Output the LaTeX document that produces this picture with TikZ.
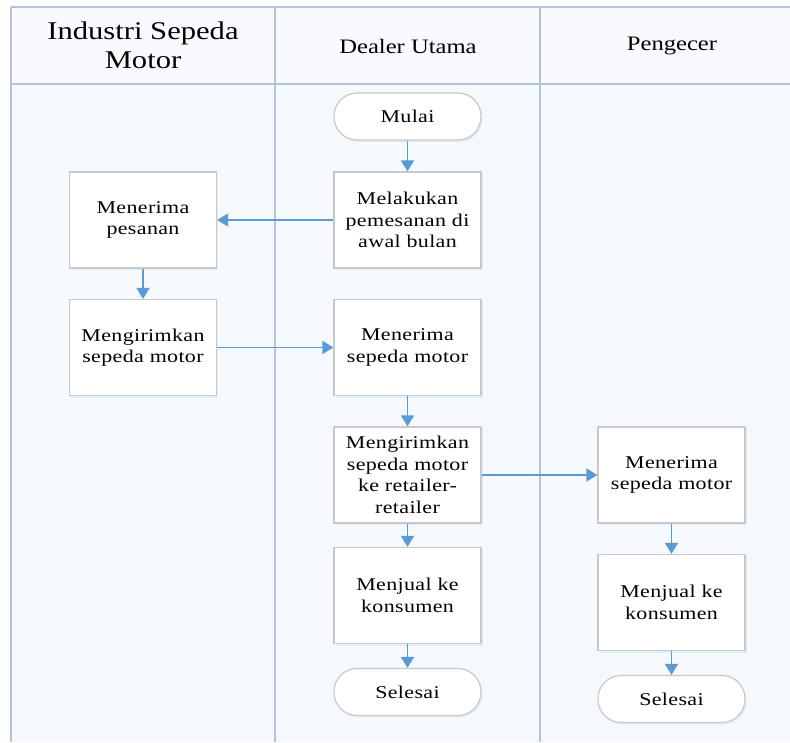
\documentclass[tikz,border=0pt]{standalone}
\usepackage{fontspec}
\setmainfont{Liberation Serif}
\newfontfamily\serifx{Liberation Serif}[FakeStretch=1.22,LetterSpace=2]
\newfontfamily\serifh{Liberation Serif}[FakeStretch=1.2]
\usetikzlibrary{arrows.meta,shadows}
\definecolor{lanecol}{HTML}{B3C3DB}
\definecolor{arrowcol}{HTML}{5B9BD5}
\definecolor{boxline}{HTML}{C8C8C8}
\definecolor{bgcol}{HTML}{F5F8FC}
\definecolor{headcol}{HTML}{F8FAFD}
\begin{document}
\begin{tikzpicture}[x=1pt,y=-1pt,
  procbox/.style={draw=boxline, line width=1.2pt, fill=white,
    minimum width=147pt, minimum height=96pt, align=center, inner sep=2pt,
    font=\serifx\fontsize{18}{21.5}\selectfont,
    drop shadow={shadow xshift=1.5pt, shadow yshift=-2pt, fill=arrowcol!35, opacity=0.35}},
  termbox/.style={procbox, minimum height=47pt, rounded corners=23pt},
  flow/.style={draw=arrowcol, line width=1.5pt, -{Triangle[length=11pt,width=13pt]}},
  lane/.style={draw=lanecol, line width=1.6pt},
  headtext/.style={align=center}
]
\useasboundingbox (0,0) rectangle (790,742);
\fill[white] (0,0) rectangle (790,742);
\fill[bgcol] (11,84) rectangle (790,742);
\fill[headcol] (11,7) rectangle (790,84);
% lanes
\draw[lane] (11,7) -- (790,7);
\draw[lane] (11,84) -- (790,84);
\draw[lane] (11,7) -- (11,742);
\draw[lane] (275,7) -- (275,742);
\draw[lane] (540,7) -- (540,742);
% headers
\node[headtext, font=\serifh\fontsize{25.5}{29}\selectfont] (h1) at (143,45) {Industri Sepeda\\Motor};
\node[headtext, font=\serifh\fontsize{20.5}{24}\selectfont] (h2) at (408,46) {Dealer Utama};
\node[headtext, font=\serifh\fontsize{20.5}{24}\selectfont] (h3) at (672,46) {Pengecer};
% nodes
\node[termbox] (mulai) at (407.5,116.5) {Mulai};
\node[procbox] (pesan) at (407.5,220) {Melakukan\\pemesanan di\\awal bulan};
\node[procbox] (terima) at (143,220) {Menerima\\pesanan};
\node[procbox] (kirim) at (143,347.5) {Mengirimkan\\sepeda motor};
\node[procbox] (terimaD) at (407.5,347.5) {Menerima\\sepeda motor};
\node[procbox] (kirimR) at (407.5,475) {Mengirimkan\\sepeda motor\\ke retailer-\\retailer};
\node[procbox] (jualD) at (407.5,595.5) {Menjual ke\\konsumen};
\node[termbox] (selesaiD) at (407.5,692) {Selesai};
\node[procbox] (terimaR) at (671.5,475) {Menerima\\sepeda motor};
\node[procbox] (jualR) at (671.5,602.5) {Menjual ke\\konsumen};
\node[termbox] (selesaiR) at (671.5,699) {Selesai};
% connectors
\draw[flow] (mulai) -- (pesan);
\draw[flow] (pesan) -- (terima);
\draw[flow] (terima) -- (kirim);
\draw[flow] (kirim) -- (terimaD);
\draw[flow] (terimaD) -- (kirimR);
\draw[flow] (kirimR) -- (jualD);
\draw[flow] (jualD) -- (selesaiD);
\draw[flow] (kirimR) -- (terimaR);
\draw[flow] (terimaR) -- (jualR);
\draw[flow] (jualR) -- (selesaiR);
\end{tikzpicture}
\end{document}
